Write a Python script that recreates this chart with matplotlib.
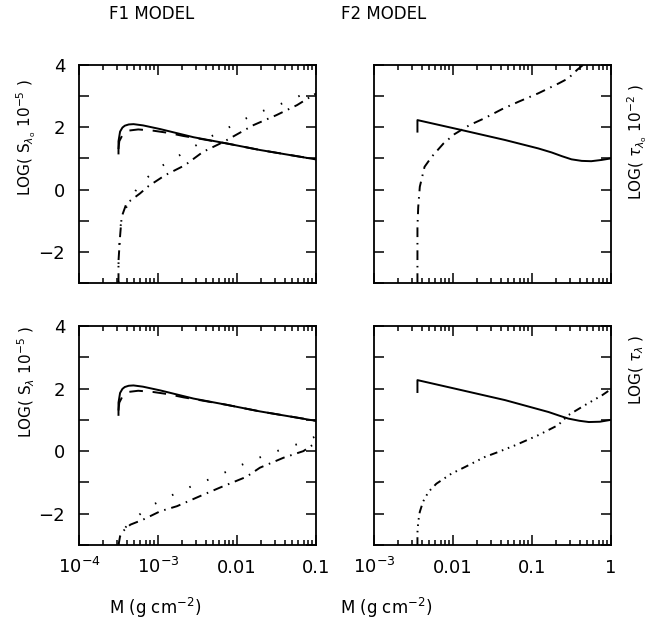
import numpy as np
from matplotlib import pyplot as plt
from matplotlib import ticker

# log10(M) positions and LOG values
f1_solid_lm = [-3.50, -3.50, -3.48, -3.45, -3.42, -3.37, -3.31, -3.19, -2.97, -2.55, -2.13, -1.71, -1.03, -1.00]
f1_solid_y = [1.16, 1.55, 1.86, 1.99, 2.05, 2.09, 2.10, 2.06, 1.94, 1.68, 1.48, 1.27, 0.98, 0.97]
f1_dash_lm = [-3.50, -3.49, -3.45, -3.38, -3.25, -3.06, -2.87, -2.68, -2.47, -2.13, -1.71, -1.00]
f1_dash_y = [1.30, 1.55, 1.75, 1.89, 1.93, 1.89, 1.82, 1.72, 1.63, 1.48, 1.27, 0.97]

s0_dot_lm = [-3.50, -3.50, -3.48, -3.44, -3.35, -3.23, -3.10, -2.97, -2.76, -2.55, -2.34, -2.13,
             -1.88, -1.62, -1.37, -1.12, -1.00]
s0_dot_y = [-3.0, -2.4, -1.25, -0.75, -0.34, 0.20, 0.46, 0.73, 1.05, 1.37, 1.69, 1.96,
            2.29, 2.58, 2.82, 3.11, 3.23]
s0_dd_lm = [-3.50, -3.50, -3.48, -3.46, -3.40, -3.23, -3.12, -2.91, -2.66, -2.43, -2.17, -1.79,
            -1.50, -1.24, -1.03, -1.00]
s0_dd_y = [-3.0, -2.3, -1.5, -0.88, -0.45, -0.13, 0.11, 0.46, 0.78, 1.21, 1.53, 2.07,
           2.39, 2.71, 3.04, 3.08]

s_dot_lm = [-3.50, -3.48, -3.46, -3.40, -3.29, -3.10, -2.85, -2.59, -2.34, -2.09, -1.88, -1.62,
            -1.37, -1.12, -1.00]
s_dot_y = [-3.0, -2.8, -2.62, -2.40, -2.14, -1.76, -1.44, -1.14, -0.89, -0.61, -0.37, -0.11,
           0.11, 0.32, 0.48]
s_dd_lm = [-3.50, -3.48, -3.44, -3.35, -3.19, -2.97, -2.76, -2.47, -2.22, -1.88, -1.71, -1.41,
           -1.16, -1.00]
s_dd_y = [-3.0, -2.72, -2.55, -2.35, -2.19, -1.92, -1.76, -1.44, -1.17, -0.82, -0.53, -0.21,
          0.0, 0.27]

t0_solid_lm = [-2.45, -2.45, -1.89, -1.34, -0.92, -0.75, -0.62, -0.50, -0.37, -0.25, -0.12, 0.0]
t0_solid_y = [1.86, 2.23, 1.91, 1.59, 1.32, 1.19, 1.07, 0.97, 0.92, 0.91, 0.95, 1.0]
t0_dd_lm = [-2.45, -2.45, -2.44, -2.42, -2.36, -2.27, -2.12, -1.98, -1.79, -1.60, -1.38, -1.17,
            -0.92, -0.66, -0.54, -0.43, -0.33]
t0_dd_y = [-3.0, -1.2, -0.56, 0.09, 0.73, 1.05, 1.48, 1.78, 2.07, 2.29, 2.58, 2.82,
           3.09, 3.41, 3.57, 3.84, 4.05]

t_solid_lm = [-2.45, -2.45, -1.98, -1.34, -0.79, -0.65, -0.54, -0.40, -0.28, -0.14, 0.0]
t_solid_y = [1.89, 2.27, 2.0, 1.63, 1.25, 1.13, 1.04, 0.97, 0.93, 0.94, 1.0]
t_ddd_lm = [-2.45, -2.45, -2.44, -2.42, -2.38, -2.31, -2.21, -2.02, -1.85, -1.60, -1.43, -1.21,
            -0.92, -0.67, -0.54, -0.33, -0.11, 0.0]
t_ddd_y = [-3.0, -2.6, -2.26, -1.94, -1.62, -1.30, -1.04, -0.72, -0.51, -0.19, -0.03, 0.19,
           0.51, 0.83, 1.15, 1.47, 1.79, 1.98]

f1_xticks = [1e-4, 1e-3, 1e-2, 1e-1]
f1_xlabels = ["$10^{-4}$", "$10^{-3}$", "0.01", "0.1"]
f2_xticks = [1e-3, 1e-2, 1e-1, 1]
f2_xlabels = ["$10^{-3}$", "0.01", "0.1", "1"]
ylabels = {-2: "\u22122", 0: "0", 2: "2", 4: "4"}

LW = 1.4
SOLID = "-"
DASHED = (0, (7, 5))
DOTTED = (0, (0.8, 9))
DASHDOT = (0, (5, 3, 0.8, 3))
DASHDOTS = (0, (4, 2.5, 0.8, 2.5, 0.8, 2.5, 0.8, 2.5))


def line(ax, lm, y, ls):
    ax.plot(10 ** np.array(lm), y, color="black", lw=LW, linestyle=ls)


def setup_panel(ax, xticks, xlabels, show_x, show_y):
    ax.set_xscale("log")
    ax.set_xlim(xticks[0], xticks[-1])
    ax.set_ylim(-3, 4)
    ax.set_xticks(xticks, xlabels if show_x else [])
    ax.xaxis.set_minor_locator(ticker.LogLocator(base=10, subs=np.arange(2, 10)))
    ax.xaxis.set_minor_formatter(ticker.NullFormatter())
    ax.set_yticks(range(-3, 5))
    ax.set_yticklabels([ylabels.get(v, "") if show_y else "" for v in range(-3, 5)])
    ax.tick_params(which="both", direction="in", top=True, right=True, width=1.1)
    ax.tick_params(which="major", length=7)
    ax.tick_params(which="minor", length=3.5)
    ax.tick_params(axis="y", pad=10, labelsize=13)
    ax.tick_params(axis="x", pad=20, labelsize=13)
    for t in ax.get_xticklabels():
        t.set_va("baseline")
    for s in ax.spines.values():
        s.set_linewidth(1.3)


fig = plt.figure(figsize=(6.7, 6.24), dpi=100)
ax_tl = fig.add_axes([0.1179, 0.5465, 0.3537, 0.3494])
ax_tr = fig.add_axes([0.5582, 0.5465, 0.3537, 0.3494])
ax_bl = fig.add_axes([0.1179, 0.1266, 0.3537, 0.3510])
ax_br = fig.add_axes([0.5582, 0.1266, 0.3537, 0.3510])

line(ax_tl, f1_solid_lm, f1_solid_y, SOLID)
line(ax_tl, f1_dash_lm, f1_dash_y, DASHED)
line(ax_tl, s0_dot_lm, s0_dot_y, DOTTED)
line(ax_tl, s0_dd_lm, s0_dd_y, DASHDOT)

line(ax_bl, f1_solid_lm, f1_solid_y, SOLID)
line(ax_bl, f1_dash_lm, f1_dash_y, DASHED)
line(ax_bl, s_dot_lm, s_dot_y, DOTTED)
line(ax_bl, s_dd_lm, s_dd_y, DASHDOT)

line(ax_tr, t0_solid_lm, t0_solid_y, SOLID)
line(ax_tr, t0_dd_lm, t0_dd_y, DASHDOT)

line(ax_br, t_solid_lm, t_solid_y, SOLID)
line(ax_br, t_ddd_lm, t_ddd_y, DASHDOTS)

setup_panel(ax_tl, f1_xticks, f1_xlabels, False, True)
setup_panel(ax_bl, f1_xticks, f1_xlabels, True, True)
setup_panel(ax_tr, f2_xticks, f2_xlabels, False, False)
setup_panel(ax_br, f2_xticks, f2_xlabels, True, False)

fig.text(0.227, 0.978, "F1 MODEL", ha="center", va="center", fontsize=12)
fig.text(0.573, 0.978, "F2 MODEL", ha="center", va="center", fontsize=12)
fig.text(0.231, 0.025, r"M (g cm$^{-2}$)", ha="center", va="center", fontsize=12)
fig.text(0.576, 0.025, r"M (g cm$^{-2}$)", ha="center", va="center", fontsize=12)

fig.text(0.040, 0.780, r"LOG( S$_{\lambda_{\rm o}}$ 10$^{-5}$ )", rotation=90,
         ha="center", va="center", fontsize=11)
fig.text(0.040, 0.388, r"LOG( S$_{\lambda}$ 10$^{-5}$ )", rotation=90,
         ha="center", va="center", fontsize=11)
fig.text(0.951, 0.772, r"LOG( $\tau_{\lambda_{\rm o}}$ 10$^{-2}$ )", rotation=90,
         ha="center", va="center", fontsize=11)
fig.text(0.951, 0.407, r"LOG( $\tau_{\lambda}$ )", rotation=90,
         ha="center", va="center", fontsize=11)

fig.savefig("out.png", dpi=100)
